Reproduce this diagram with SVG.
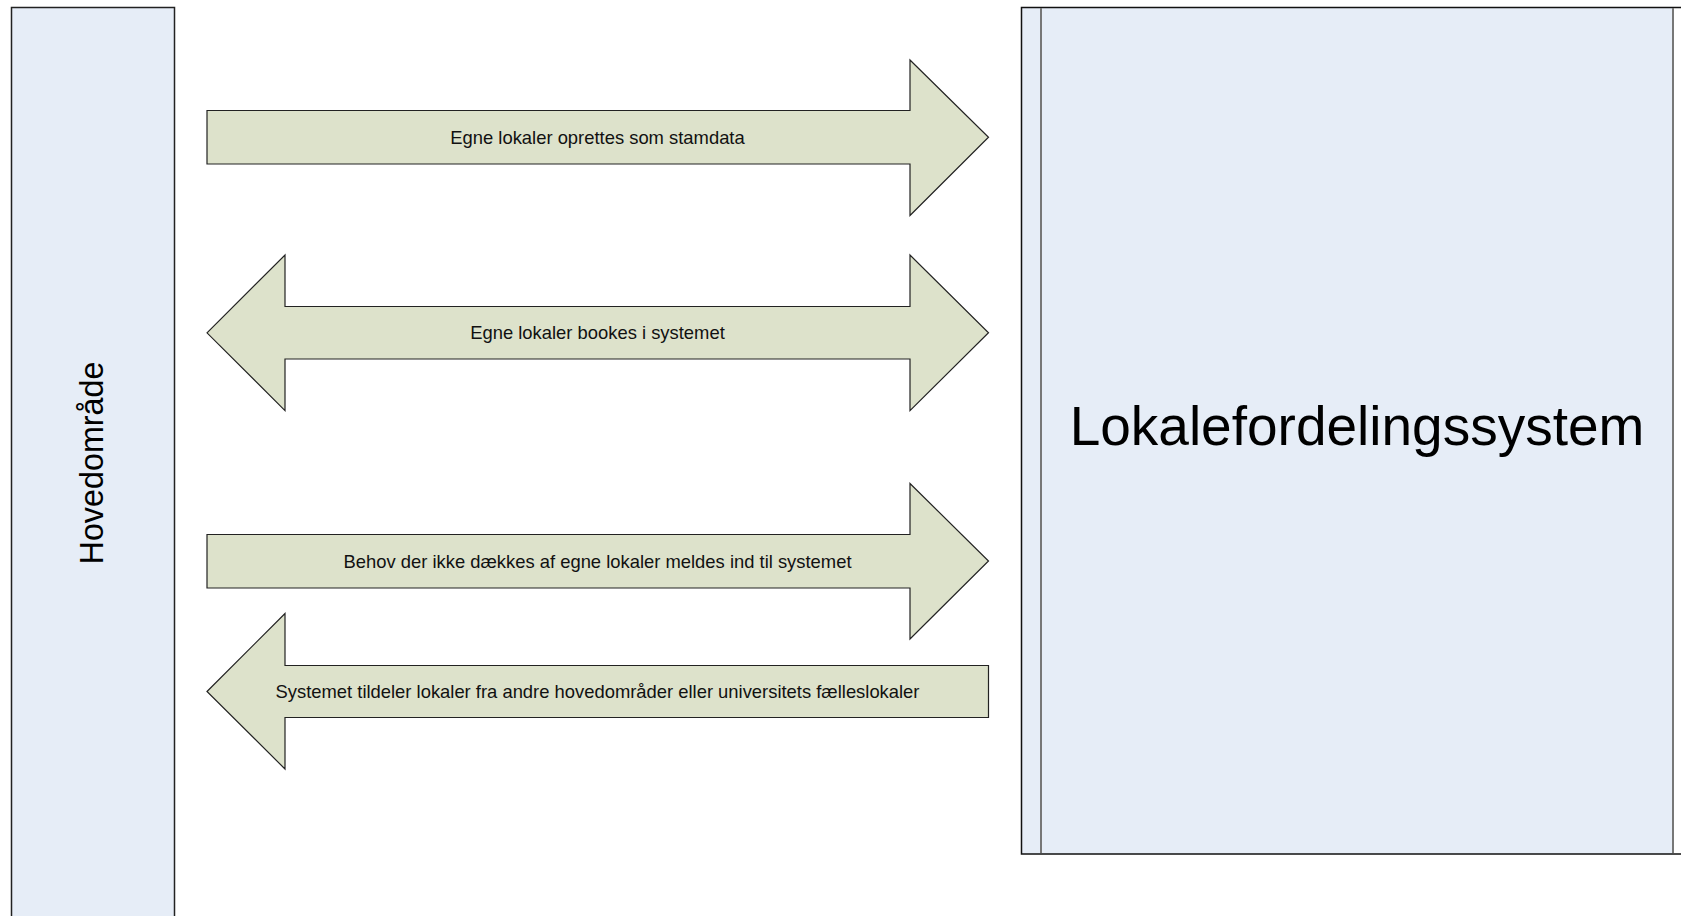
<svg xmlns="http://www.w3.org/2000/svg" width="1681" height="916" viewBox="0 0 1681 916">
<style>
.lane{fill:#E6EDF7;stroke:#222;stroke-width:1.5}
.arrow{fill:#DDE2CB;stroke:#222;stroke-width:1.2}
.lbl{font-family:"Liberation Sans",Arial,sans-serif;font-size:18.4px;fill:#111;text-anchor:middle}
.big{font-family:"Liberation Sans",Arial,sans-serif;fill:#000;text-anchor:middle}
.div{stroke:#777;stroke-width:2;fill:none}
</style>
<rect width="1681" height="916" fill="#fff"/>
<g id="hovedomraade">
<rect class="lane" x="11.5" y="7.5" width="163" height="920"/>
<text class="big" font-size="32.3" transform="translate(102.5,463) rotate(-90)">Hovedområde</text>
</g>
<g id="lokalefordelingssystem">
<rect x="1021" y="7" width="652" height="847" fill="#E6EDF7"/>
<rect x="1021.5" y="7.5" width="680" height="846.5" fill="none" stroke="#111" stroke-width="1.5"/>
<line class="div" x1="1041" y1="8" x2="1041" y2="853"/>
<line class="div" x1="1673" y1="8" x2="1673" y2="853"/>
<text class="big" font-size="55" x="1357" y="445">Lokalefordelingssystem</text>
</g>
<g id="connectors">
<g id="arrow1">
<polygon class="arrow" points="207,110.5 910,110.5 910,60 988.5,137.3 910,215.5 910,164 207,164"/>
<text class="lbl" x="597.5" y="143.5">Egne lokaler oprettes som stamdata</text>
</g>
<g id="arrow2">
<polygon class="arrow" points="207,332.8 285,255 285,306.5 910,306.5 910,255 988.5,332.8 910,410.6 910,359 285,359 285,410.6"/>
<text class="lbl" x="597.5" y="339">Egne lokaler bookes i systemet</text>
</g>
<g id="arrow3">
<polygon class="arrow" points="207,534.5 910,534.5 910,483.5 988.5,561 910,639 910,588 207,588"/>
<text class="lbl" x="597.5" y="567.5">Behov der ikke dækkes af egne lokaler meldes ind til systemet</text>
</g>
<g id="arrow4">
<polygon class="arrow" points="207,691.5 285,613.5 285,665.5 988.5,665.5 988.5,717.5 285,717.5 285,769"/>
<text class="lbl" x="597.5" y="698">Systemet tildeler lokaler fra andre hovedområder eller universitets fælleslokaler</text>
</g>
</g>
</svg>
